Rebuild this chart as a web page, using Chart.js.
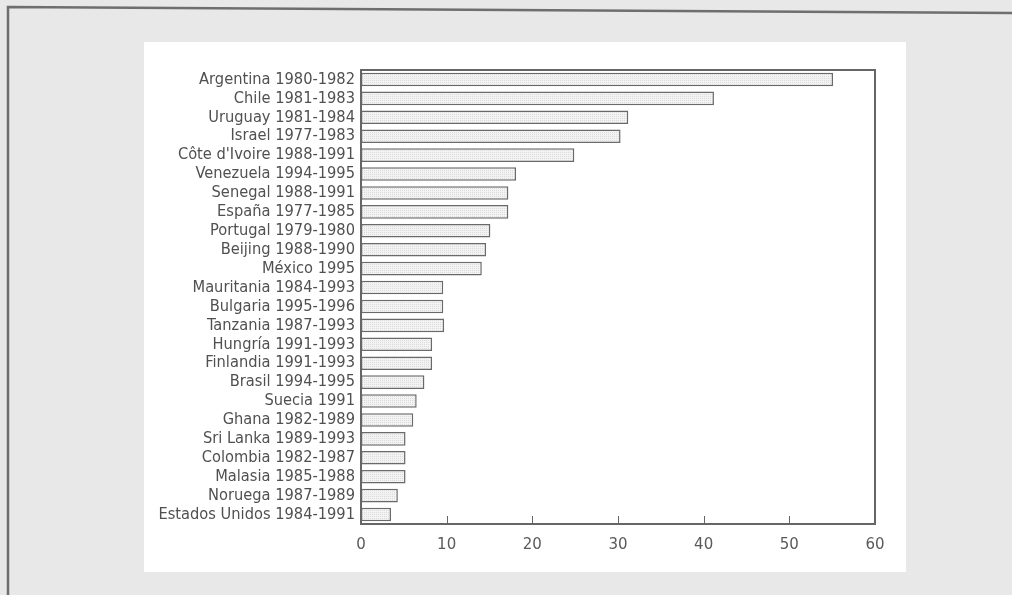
<!DOCTYPE html>
<html>
<head>
<meta charset="utf-8">
<script src="https://cdn.jsdelivr.net/npm/chart.js@4/dist/chart.umd.min.js"></script>
<style>
  html, body { margin: 0; padding: 0; background: #e8e8e8; }
  #wrap { width: 1012px; height: 595px; position: relative; }
</style>
</head>
<body>
<div id="wrap"><canvas id="c" width="1012" height="595"></canvas></div>
<script>
// Episodes (country and crisis years), top to bottom
const categories = [
  'Argentina 1980-1982', 'Chile 1981-1983', 'Uruguay 1981-1984', 'Israel 1977-1983',
  "Côte d'Ivoire 1988-1991", 'Venezuela 1994-1995', 'Senegal 1988-1991', 'España 1977-1985',
  'Portugal 1979-1980', 'Beijing 1988-1990', 'México 1995', 'Mauritania 1984-1993',
  'Bulgaria 1995-1996', 'Tanzania 1987-1993', 'Hungría 1991-1993', 'Finlandia 1991-1993',
  'Brasil 1994-1995', 'Suecia 1991', 'Ghana 1982-1989', 'Sri Lanka 1989-1993',
  'Colombia 1982-1987', 'Malasia 1985-1988', 'Noruega 1987-1989', 'Estados Unidos 1984-1991'
];

// Value of each episode
const values = [
  55.1, 41.2, 31.2, 30.3, 24.9, 18.1, 17.2, 17.2,
  15.1, 14.6, 14.1, 9.6, 9.6, 9.7, 8.3, 8.3,
  7.4, 6.5, 6.1, 5.2, 5.2, 5.2, 4.3, 3.5
];

// Horizontal axis ticks
const xTicks = [0, 10, 20, 30, 40, 50, 60];

const ink = '#505050';
const frame = '#666666';

// Light stippled fill used inside the bars
function stipple() {
  const p = document.createElement('canvas');
  p.width = 2; p.height = 2;
  const g = p.getContext('2d');
  g.fillStyle = '#f3f3f3'; g.fillRect(0, 0, 2, 2);
  g.fillStyle = '#dcdcdc'; g.fillRect(0, 0, 1, 1);
  return g.createPattern(p, 'repeat');
}

// Page backdrop: grey sheet, outer rule and white panel behind the chart
const backdrop = {
  id: 'backdrop',
  beforeDraw(chart) {
    const ctx = chart.ctx;
    ctx.save();
    ctx.fillStyle = '#e8e8e8';
    ctx.fillRect(0, 0, chart.width, chart.height);
    ctx.fillStyle = '#ffffff';
    ctx.fillRect(144, 42, 762, 530);
    ctx.strokeStyle = '#6e6e6e';
    ctx.lineWidth = 2.5;
    ctx.beginPath();
    ctx.moveTo(8, 600);
    ctx.lineTo(8, 7);
    ctx.lineTo(1012, 13);
    ctx.stroke();
    ctx.restore();
  }
};

// Plot frame and the short inward ticks on the value axis
const plotFrame = {
  id: 'plotFrame',
  afterDatasetsDraw(chart) {
    const { ctx, chartArea: a, scales } = chart;
    ctx.save();
    ctx.strokeStyle = frame;
    ctx.lineWidth = 2;
    ctx.strokeRect(a.left, a.top, a.right - a.left, a.bottom - a.top);
    ctx.lineWidth = 1;
    ctx.beginPath();
    scales.x.ticks.forEach((t, i) => {
      const px = Math.round(scales.x.getPixelForTick(i)) + 0.5;
      ctx.moveTo(px, a.bottom);
      ctx.lineTo(px, a.bottom - 8);
    });
    ctx.stroke();
    ctx.restore();
  }
};

new Chart(document.getElementById('c'), {
  type: 'bar',
  data: {
    labels: categories,
    datasets: [{
      data: values,
      backgroundColor: stipple(),
      borderColor: '#6a6a6a',
      borderWidth: 1.5,
      borderSkipped: false,
      barPercentage: 0.72,
      categoryPercentage: 1.0
    }]
  },
  options: {
    indexAxis: 'y',
    responsive: false,
    animation: false,
    events: [],
    layout: { padding: { top: 70, right: 137, left: 0, bottom: 0 } },
    plugins: { legend: { display: false }, tooltip: { enabled: false } },
    scales: {
      x: {
        min: 0, max: 60,
        afterBuildTicks(scale) { scale.ticks = xTicks.map(v => ({ value: v })); },
        afterFit(scale) { scale.height = 71; },
        grid: { display: false, drawTicks: false },
        border: { display: false },
        ticks: {
          color: '#5a5a5a', padding: 12,
          font: { family: 'DejaVu Sans', size: 15 }
        }
      },
      y: {
        afterFit(scale) { scale.width = 361; },
        grid: { display: false, drawTicks: false },
        border: { display: false },
        ticks: {
          color: ink, padding: 6, autoSkip: false,
          font: { family: 'DejaVu Sans Condensed', size: 16.3 }
        }
      }
    }
  },
  plugins: [backdrop, plotFrame]
});
</script>
</body>
</html>
